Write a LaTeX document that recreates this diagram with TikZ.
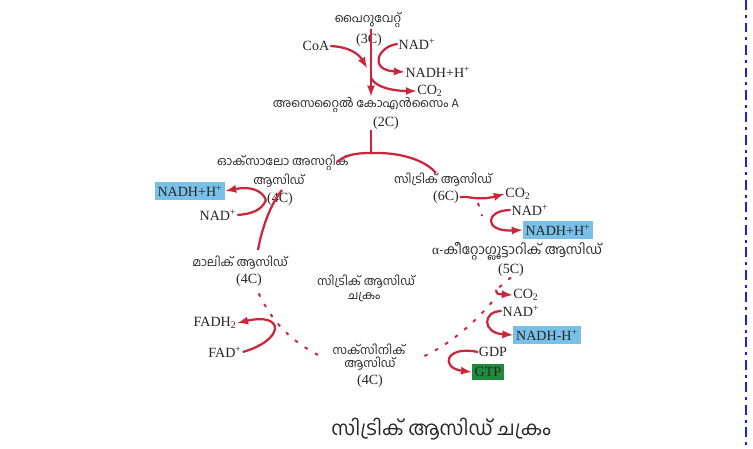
\documentclass[tikz,border=0pt]{standalone}
\usepackage{fontspec}
\setmainfont{Liberation Serif}
\newfontfamily\mlfont[Script=Malayalam]{Hind Kochi}
\usepackage{tikz}
\usetikzlibrary{arrows}

\definecolor{cyclered}{RGB}{204,38,58}
\definecolor{nadblue}{RGB}{120,192,232}
\definecolor{gtpgreen}{RGB}{32,138,60}
\definecolor{frameblue}{RGB}{30,30,235}

\tikzset{
  chemtxt/.style={font=\fontsize{10}{12}\selectfont, inner sep=0.5pt, text=black!85},
  maltxt/.style={font=\mlfont\fontsize{8.5}{10}\selectfont, inner sep=0.5pt, text=black!85},
  nadbox/.style={chemtxt, fill=nadblue, inner xsep=2pt, inner ysep=2.5pt},
  gtpbox/.style={chemtxt, fill=gtpgreen, inner xsep=2pt, inner ysep=2.5pt},
  redline/.style={draw=cyclered, line width=1.6pt},
  redarrow/.style={redline, -latex},
  reddots/.style={draw=cyclered, line width=1.4pt, dash pattern=on 2.5pt off 6pt}
}

\begin{document}
\begin{tikzpicture}[x=0.025cm, y=-0.025cm]

\useasboundingbox[fill=white] (0,0) rectangle (753,448);

% pyruvate to acetyl CoA
\node[maltxt] (pyr) at (368,20) {പൈറുവേറ്റ്};
\node[chemtxt] (pyrc) at (369,40) {(3C)};
\node[chemtxt] (coa) at (316,46) {CoA};
\node[chemtxt] (nadA) at (417,44) {NAD\textsuperscript{+}};
\node[chemtxt] (nadhA) at (438,72) {NADH+H\textsuperscript{+}};
\node[chemtxt] (coA) at (430,91) {CO\textsubscript{2}};
\node[maltxt] (acetyl) at (366,105) {അസെറ്റൈൽ കോഎൻസൈം A};
\node[chemtxt] (acetylc) at (386,123) {(2C)};

\coordinate (coajoin) at (367,68);
\coordinate (cosplit) at (371,78);
\coordinate (fork) at (371,153);

\draw[redarrow] (pyr.south -| fork) -- (acetyl.north -| fork);
\draw[redarrow] (coa.east) .. controls (352,47) and (360,56) .. (coajoin);
\draw[redarrow] (nadA.west) .. controls (378,46) and (368,70) .. (nadhA.west);
\draw[redarrow] (cosplit) .. controls (376,88) and (395,91) .. (coA.west);

% the cycle
\node[maltxt] (oxalo) at (283,163) {ഓക്സാലോ അസറ്റിക്};
\node[maltxt] (oxaloB) at (279,181) {ആസിഡ്};
\node[chemtxt] (oxaloC) at (280,199) {(4C)};
\node[maltxt] (citric) at (443,180) {സിട്രിക് ആസിഡ്};
\node[chemtxt] (citricC) at (446,197) {(6C)};
\node[maltxt, font=\mlfont\fontsize{9.5}{11}\selectfont] (keto) at (517,251) {{\rmfamily α}-കീറ്റോഗ്ലൂട്ടാറിക് ആസിഡ്};
\node[chemtxt] (ketoC) at (511,270) {(5C)};
\node[maltxt] (succ) at (369,349) {സക്സിനിക്};
\node[maltxt] (succB) at (370,364) {ആസിഡ്};
\node[chemtxt] (succC) at (370,381) {(4C)};
\node[maltxt] (malic) at (240,263) {മാലിക് ആസിഡ്};
\node[chemtxt] (malicC) at (249,280) {(4C)};
\node[maltxt] (mid) at (366,282) {സിട്രിക് ആസിഡ്};
\node[maltxt] (midB) at (364,297) {ചക്രം};

\node[chemtxt] (coB) at (518,194) {CO\textsubscript{2}};
\node[chemtxt] (nadB) at (530,210) {NAD\textsuperscript{+}};
\node[nadbox] (nadhB) at (558,230) {NADH+H\textsuperscript{+}};
\node[chemtxt] (coC) at (526,295) {CO\textsubscript{2}};
\node[chemtxt] (nadC) at (521,311) {NAD\textsuperscript{+}};
\node[nadbox] (nadhC) at (547,335) {NADH-H\textsuperscript{+}};
\node[chemtxt] (gdp) at (493,352) {GDP};
\node[gtpbox] (gtp) at (488,372) {GTP};
\node[chemtxt] (fadh) at (215,323) {FADH\textsubscript{2}};
\node[chemtxt] (fad) at (225,352) {FAD\textsuperscript{+}};
\node[chemtxt] (nadD) at (218,215) {NAD\textsuperscript{+}};
\node[nadbox] (nadhD) at (190,191) {NADH+H\textsuperscript{+}};

\coordinate (oxaloin) at (337,162);
\coordinate (citricin) at (436,173);
\coordinate (ketotop) at (478,203);
\coordinate (ketoup) at (482,216);
\coordinate (cobend) at (496,290);
\coordinate (ketoout) at (492,302);
\coordinate (succin) at (420,358);
\coordinate (succout) at (318,355);
\coordinate (malicin) at (258,292);
\coordinate (malicout) at (258,250);
\coordinate (oxalotop) at (282,190);
\coordinate (nadjoin) at (266,200);

\draw[redline] (acetylc.south -| fork) -- (fork);
\draw[redline] (fork) .. controls (355,153) and (345,155) .. (oxaloin);
\draw[redline] (fork) .. controls (400,152) and (425,160) .. (citricin);

\draw[redarrow] (citricC.east) .. controls (470,196) and (478,201) .. (coB.west);
\draw[reddots] (ketotop) -- (ketoup);
\draw[redarrow] (nadB.west) .. controls (485,210) and (483,232) .. (nadhB.west);

\draw[reddots] (ketoC.south) -- (cobend);
\draw[redarrow] (cobend) .. controls (497,294) .. (coC.west);
\draw[redarrow] (nadC.west) .. controls (482,311) and (482,333) .. (nadhC.west);
\draw[reddots] (ketoout) .. controls (475,322) and (450,345) .. (succin);
\draw[redarrow] (gdp.west) .. controls (445,345) and (440,368) .. (gtp.west);

\draw[reddots] (succout) .. controls (290,340) and (272,322) .. (malicin);
\draw[redarrow] (fad.east) .. controls (285,340) and (285,312) .. (fadh.east);

\draw[redline] (malicout) .. controls (262,228) and (270,205) .. (oxalotop);
\draw[redline] (nadD.east) .. controls (252,214) and (262,210) .. (nadjoin);
\draw[redarrow] (nadjoin) .. controls (262,190) and (250,186) .. (nadhD.east);

\node[maltxt, font=\mlfont\fontsize{14}{16}\selectfont] (title) at (441,429) {സിട്രിക് ആസിഡ് ചക്രം};

\draw[frameblue, line width=2pt, dash pattern=on 7pt off 3.5pt on 2pt off 3.5pt] (746,0) -- (746,448);

\end{tikzpicture}
\end{document}
